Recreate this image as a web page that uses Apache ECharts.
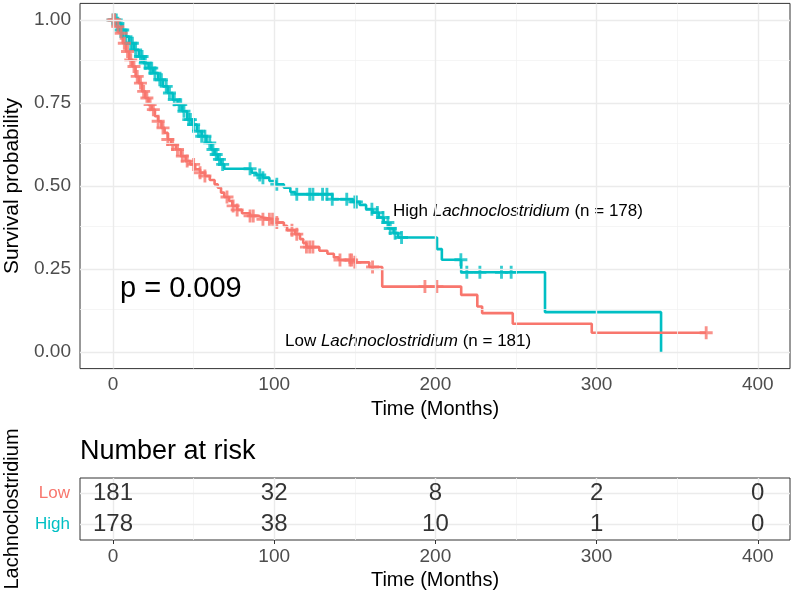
<!DOCTYPE html>
<html><head><meta charset="utf-8">
<script src="https://cdn.jsdelivr.net/npm/echarts@6/dist/echarts.min.js"></script>
<style>html,body{margin:0;padding:0;background:#fff}#c{width:794px;height:597px}</style>
</head><body><div id="c"></div>
<script>
// ---- data ----
const highTimes = [0,3,5,8,10,13,16,19,22,25,28,31,34,37,40,43,46,49,52,55,58,61,63,65,67,69,86,89,93,97,101,106,110,113,136,149,153,157,161,165,168,171,174,177,201,204,216,268,340];
const highSurv  = [1,0.99,0.97,0.95,0.93,0.91,0.89,0.87,0.855,0.84,0.82,0.80,0.78,0.76,0.745,0.725,0.70,0.685,0.665,0.65,0.63,0.61,0.595,0.58,0.565,0.552,0.54,0.533,0.525,0.515,0.505,0.495,0.482,0.475,0.46,0.452,0.443,0.43,0.42,0.405,0.39,0.372,0.358,0.345,0.31,0.278,0.24,0.12,0];
const highCensor = [0,1,2,3,5,6,8,11,12,14,17,18,20,23,24,26,29,30,33,35,38,41,42,44,47,48,50,53,55,57,60,62,64,66,68,85,91,93,101.6,114,122,124,130,132.7,136,145,150,151,160.6,164,167.5,170.5,172,175,179,215.8,219.5,227.6,241,247];

const lowTimes = [0,2,4,6,8,10,12,14,16,18,20,22,24,26,28,30,32,34,36,39,42,45,48,51,54,57,60,63,65,67,69,72,74,77,80,85,90,93,100,106,108,113,116,118,120,128,133,137,140,150,159,167,216,226,229,248,297,368];
const lowSurv  = [1,0.98,0.96,0.93,0.905,0.88,0.86,0.83,0.81,0.785,0.765,0.745,0.73,0.71,0.695,0.675,0.66,0.64,0.625,0.61,0.59,0.575,0.565,0.55,0.54,0.53,0.518,0.505,0.495,0.48,0.467,0.455,0.44,0.428,0.418,0.41,0.405,0.4,0.39,0.38,0.367,0.355,0.34,0.328,0.316,0.305,0.296,0.285,0.277,0.27,0.256,0.197,0.172,0.137,0.117,0.085,0.058,0.058];
const lowCensor = [0,1,3,5,7,9,11,13,15,17,19,21,23,25,28,31,34,37,40,43,46,50,54,57,70.7,74.5,77,85,87,93,97,99,101.6,111,114,120,122,124,140.8,147,148,150,161,193.5,200.9,368];

const riskGroups = ['High','Low'];
const riskTimes = [0,100,200,300,400];
const riskLow  = [181,32,8,2,0];
const riskHigh = [178,38,10,1,0];

const xTicks = [0,100,200,300,400];
const xMinor = [50,150,250,350];
const yTicks = [0,0.25,0.5,0.75,1];
const yMinor = [0.125,0.375,0.625,0.875];
const yLabels = ['0.00','0.25','0.50','0.75','1.00'];

const RED = '#F8766D', CYAN = '#00BFC4';
const FONT = 'Liberation Sans, Arial, sans-serif';
const AFAM = 'Liberation Sans';
const ASIZE = 17;

function survAt(times, surv, t){ let v = surv[0]; for (let i=0;i<times.length;i++){ if (times[i] <= t) v = surv[i]; else break; } return v; }
const pairs = (a,b) => a.map((t,i)=>[t,b[i]]);
const plus = 'path://M3.9,0H6.1V3.9H10V6.1H6.1V10H3.9V6.1H0V3.9H3.9Z';

// annotation with italic genus name: pieces placed side by side using measured widths
const mctx = document.createElement('canvas').getContext('2d');
function tw(text, italic){ mctx.font = (italic ? 'italic ' : '') + ASIZE + 'px "' + AFAM + '"'; return mctx.measureText(text).width; }
function annot(x, y, parts){
  let cx = x; const out = [];
  parts.forEach(p => {
    out.push({type:'text', x:cx, y:y, style:{text:p[0], fontSize:ASIZE, fontFamily:AFAM, fontStyle:p[1]?'italic':'normal', fill:'#000', verticalAlign:'middle'}});
    cx += tw(p[0], p[1]);
  });
  return out;
}

const chart = echarts.init(document.getElementById('c'), null, {renderer:'canvas'});

const minorL = {color:'#F3F3F3', width:0.8, type:'solid'};
const majorL = {color:'#EBEBEB', width:1.4, type:'solid'};

const axisCommonX = {
  type:'value', min:-20.5, max:420,
  axisLine:{show:false}, splitLine:{show:false},
  axisTick:{show:true, length:4, customValues:xTicks, lineStyle:{color:'#333', width:1}},
  axisLabel:{customValues:xTicks, color:'#4D4D4D', fontSize:19, fontFamily:FONT, margin:7}
};

chart.setOption({
  animation:false,
  grid:[
    {left:80, top:3.4, width:710, height:365.2, show:true, borderColor:'#333', borderWidth:1, backgroundColor:'transparent', outerBoundsMode:'none', containLabel:false},
    {left:80, top:478, width:710, height:62, show:true, borderColor:'#333', borderWidth:1, backgroundColor:'transparent', outerBoundsMode:'none', containLabel:false}
  ],
  xAxis:[
    Object.assign({}, axisCommonX, {gridIndex:0, name:'Time (Months)', nameLocation:'middle', nameGap:30,
      nameTextStyle:{color:'#000', fontSize:20, fontFamily:FONT}}),
    Object.assign({}, axisCommonX, {gridIndex:1, name:'Time (Months)', nameLocation:'middle', nameGap:30,
      nameTextStyle:{color:'#000', fontSize:20, fontFamily:FONT}})
  ],
  yAxis:[
    {gridIndex:0, type:'value', min:-0.05, max:1.05, axisLine:{show:false}, splitLine:{show:false},
     axisTick:{show:true, length:4, customValues:yTicks, lineStyle:{color:'#333'}},
     axisLabel:{customValues:yTicks, formatter:v=>yLabels[yTicks.findIndex(t=>Math.abs(t-v)<1e-6)], color:'#4D4D4D', fontSize:19, fontFamily:FONT, margin:9},
     name:'Survival probability', nameLocation:'middle', nameGap:53, nameRotate:90,
     nameTextStyle:{color:'#000', fontSize:21, fontFamily:FONT}},
    {gridIndex:1, type:'category', data:riskGroups, axisLine:{show:false}, splitLine:{show:false},
     axisTick:{show:true, length:4, alignWithLabel:true, lineStyle:{color:'#333'}},
     axisLabel:{fontSize:17, fontFamily:FONT, margin:10,
       formatter:v=> v==='Low' ? '{l|Low}' : '{h|High}',
       rich:{l:{color:RED, fontSize:17, fontFamily:FONT}, h:{color:CYAN, fontSize:17, fontFamily:FONT}}},
     name:'Lachnoclostridium', nameLocation:'middle', nameGap:58, nameRotate:90,
     nameTextStyle:{color:'#000', fontSize:20, fontFamily:FONT}}
  ],
  series:[
    {type:'line', xAxisIndex:0, yAxisIndex:0, data:[], silent:true, z:0,
     markLine:{silent:true, symbol:'none', label:{show:false}, animation:false,
       data:[...xMinor.map(v=>({xAxis:v, lineStyle:minorL})), ...yMinor.map(v=>({yAxis:v, lineStyle:minorL})),
             ...xTicks.map(v=>({xAxis:v, lineStyle:majorL})), ...yTicks.map(v=>({yAxis:v, lineStyle:majorL}))]}},
    {type:'line', xAxisIndex:1, yAxisIndex:1, data:[], silent:true, z:0,
     markLine:{silent:true, symbol:'none', label:{show:false}, animation:false,
       data:[...xMinor.map(v=>({xAxis:v, lineStyle:minorL})),
             ...xTicks.map(v=>({xAxis:v, lineStyle:majorL})), ...riskGroups.map(v=>({yAxis:v, lineStyle:majorL}))]}},
    {name:'High', type:'line', xAxisIndex:0, yAxisIndex:0, step:'end', data:pairs(highTimes, highSurv),
     symbol:'none', lineStyle:{color:CYAN, width:2.6}, z:3},
    {name:'Low', type:'line', xAxisIndex:0, yAxisIndex:0, step:'end', data:pairs(lowTimes, lowSurv),
     symbol:'none', lineStyle:{color:RED, width:2.6}, z:3},
    {type:'scatter', xAxisIndex:0, yAxisIndex:0, symbol:plus, symbolSize:13, itemStyle:{color:CYAN}, z:4,
     data:highCensor.map(t=>[t, survAt(highTimes, highSurv, t)])},
    {type:'scatter', xAxisIndex:0, yAxisIndex:0, symbol:plus, symbolSize:13, itemStyle:{color:RED}, z:4,
     data:lowCensor.map(t=>[t, survAt(lowTimes, lowSurv, t)])},
    {type:'scatter', xAxisIndex:1, yAxisIndex:1, symbolSize:0, z:5,
     data:[...riskTimes.map((t,i)=>[t,'Low',riskLow[i]]), ...riskTimes.map((t,i)=>[t,'High',riskHigh[i]])],
     label:{show:true, position:'inside', formatter:p=>String(p.value[2]), color:'#000', fontSize:24, fontFamily:FONT}}
  ],
  graphic:[
    {type:'text', left:120, top:274, style:{text:'p = 0.009', fontSize:29, fontFamily:FONT, fill:'#000'}},
    ...annot(393, 211, [['High ',false],['Lachnoclostridium',true],[' (n = 178)',false]]),
    ...annot(285, 341, [['Low ',false],['Lachnoclostridium',true],[' (n = 181)',false]]),
    {type:'text', left:80, top:438, style:{text:'Number at risk', fontSize:27, fontFamily:FONT, fill:'#000'}}
  ]
});
</script></body></html>
